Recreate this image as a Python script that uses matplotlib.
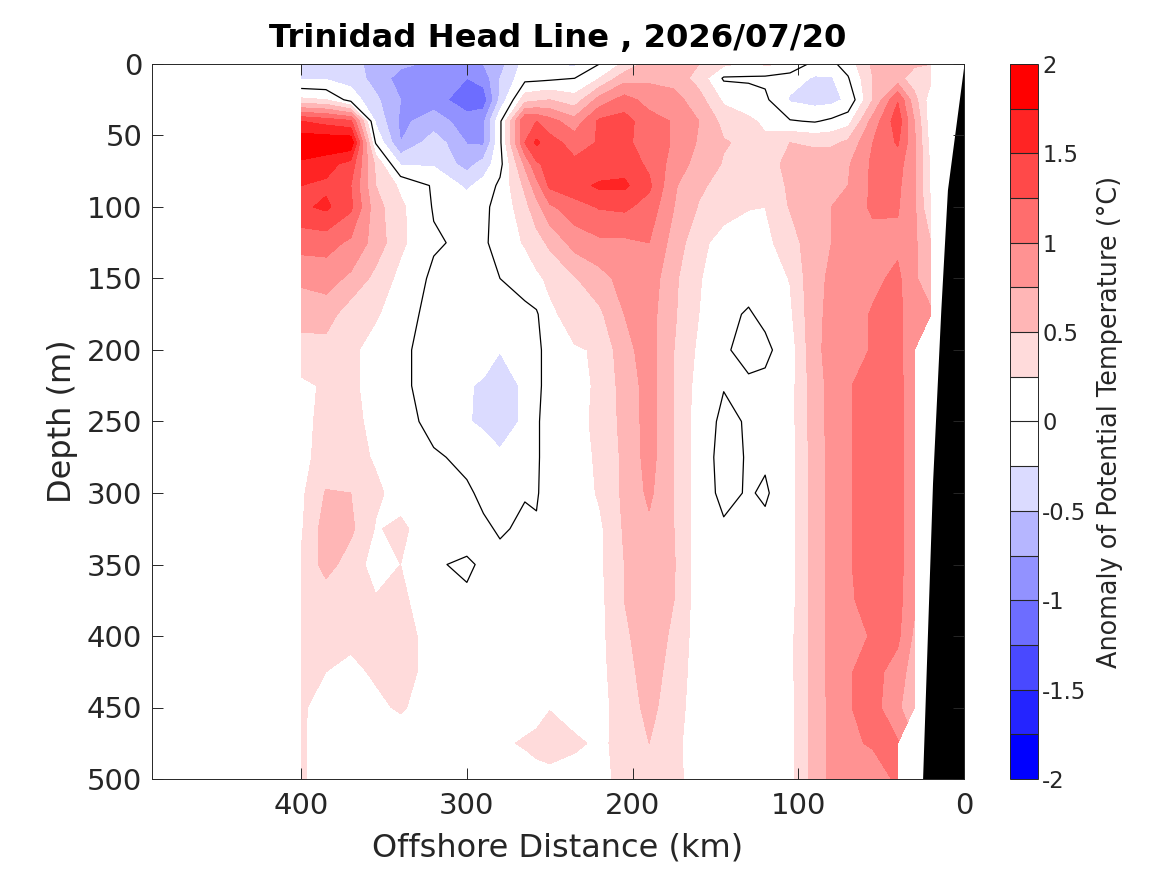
import numpy as np
import matplotlib
matplotlib.use("Agg")
import matplotlib.pyplot as plt

nan = np.nan

# Section grid
depth = [0, 10, 25, 40, 55, 70, 85, 100, 125, 150, 175, 200, 225, 250, 275, 300, 325, 350, 375, 400, 425, 450, 475, 500]
dist = [400, 385, 370, 355, 340, 320, 300, 290, 280, 265, 258, 250, 235, 220, 205, 190, 175, 160, 145, 130, 120, 105, 90, 80, 70, 55, 40, 30, 20]

# Temperature anomaly [C], one profile per station
t400 = [-.4, -.27, .3, 1.5, 1.95, 1.7, 1.5, 1.45, 1.1, .8, .6, .4, .2, .2, .2, .2, .22, .27, .3, .3, .3, .3, .3, .3]
t385 = [-.35, -.28, .25, 1.4, 1.95, 1.6, 1.45, 1.55, 1.1, .85, .62, .4, .28, .3, .32, .52, .62, .6, .35, .3, .25, .1, .05, .05]
t370 = [-.4, -.35, -.1, 1.3, 1.95, 1.4, 1.25, 1.3, .95, .7, .35, .3, .3, .3, .35, .5, .55, .38, .3, .3, .2, .1, .05, .05]
t355 = [-.6, -.6, -.45, -.3, -.02, .45, .5, .6, .65, .42, .28, .15, .15, .2, .22, .3, .23, .15, .27, .3, .28, .2, .1, .05]
t340 = [-.7, -.85, -.75, -.8, -.75, -.27, .2, .3, .3, .18, .1, .05, .05, .1, .12, .15, .3, .25, .3, .35, .35, .28, .1, .05]
t320 = [-.8, -.9, -.85, -.65, -.35, -.28, -.03, -.02, .03, -.05, -.08, -.1, -.1, -.08, .03, .08, .1, .02, .1, .15, .15, .12, .1, .1]
t300 = [-.85, -1, -1.2, -.85, -.76, -.6, -.3, -.1, -.05, -.05, -.1, -.15, -.23, -.23, -.05, .03, .1, -.03, .03, .1, .1, .1, .12, .1]
t290 = [-.75, -.9, -1.15, -.8, -.8, -.4, -.15, -.03, -.02, -.03, -.12, -.15, -.28, -.3, -.1, -.04, .03, .03, .05, .08, .08, .1, .12, .1]
t280 = [-.6, -.5, -.45, -.05, -.05, -.08, .05, .05, .05, 0, -.24, -.24, -.4, -.4, -.2, -.1, -.02, .05, .07, .08, .08, .1, .2, .12]
t265 = [-.15, -.08, .4, 1.25, 1.25, .8, .55, .42, .28, .05, -.03, -.05, -.2, -.2, -.04, -.01, .03, .08, .08, .08, .1, .12, .28, .1]
t258 = [-.15, -.07, .45, 1.25, 1.55, 1.2, .9, .65, .4, .2, -.03, -.03, -.03, -.03, -.03, -.02, .02, .08, .08, .08, .08, .1, .35, .12]
t250 = [-.26, -.05, .5, 1.1, 1.35, 1.35, 1.3, .95, .55, .3, .2, .05, .05, .1, .1, .1, .1, .1, .1, .1, .1, .23, .45, .1]
t235 = [-.3, 0, .35, .85, 1.15, 1.3, 1.4, 1.15, .85, .48, .35, .23, .15, .18, .12, .1, .1, .1, .1, .12, .12, .12, .3, .12]
t220 = [0, .25, .85, 1.3, 1.27, 1.3, 1.55, 1.27, .95, .65, .45, .27, .3, .3, .3, .28, .2, .2, .18, .18, .18, .18, .2, .2]
t205 = [.3, .65, 1.1, 1.35, 1.3, 1.4, 1.55, 1.3, .95, .85, .75, .68, .6, .58, .55, .55, .53, .5, .5, .45, .4, .35, .33, .3]
t190 = [.6, .7, .9, 1.1, 1.15, 1.2, 1.3, 1.15, 1, .9, .85, .85, .85, .85, .85, .8, .7, .65, .65, .65, .62, .58, .5, .4]
t175 = [.55, .65, .85, .98, .97, .9, .78, .75, .65, .55, .53, .5, .5, .5, .5, .5, .5, .52, .5, .45, .4, .35, .3, .28]
t160 = [.5, .4, .6, .75, .72, .65, .55, .48, .32, .27, .25, .2, .15, .12, .12, .12, .12, .12, .12, .12, .12, .13, .15, .2]
t145 = [.3, -.03, .2, .42, .52, .48, .4, .35, .15, .1, .05, .04, .01, -.05, -.08, -.06, .03, .05, .08, .08, .08, .08, .08, .08]
t130 = [.2, -.03, .1, .3, .45, .35, .3, .27, .05, .08, -.02, -.1, .05, .02, .02, .02, .06, .08, .08, .08, .08, .08, .08, .08]
t120 = [.28, -.05, .05, .2, .3, .35, .3, .25, .2, .12, .05, -.05, .05, .05, .03, -.03, .05, .08, .08, .08, .08, .08, .08, .08]
t105 = [.25, -.15, -.28, .02, .5, .6, .55, .52, .35, .26, .2, .12, .15, .15, .15, .15, .15, .15, .15, .18, .18, .18, .18, .18]
t90 = [-.1, -.28, -.35, -.02, .45, .65, .68, .7, .72, .7, .7, .7, .65, .65, .62, .62, .62, .62, .62, .62, .62, .6, .6, .6]
t80 = [-.05, -.28, -.33, .05, .45, .68, .72, .75, .75, .78, .8, .82, .82, .82, .82, .82, .82, .82, .82, .82, .82, .82, .82, .82]
t70 = [.1, -.02, -.2, .15, .55, .72, .75, .82, .9, .88, .9, .9, .98, .98, .98, .98, .98, .98, .98, .92, .98, .98, .95, .9]
t55 = [.55, .5, .5, .85, 1, 1.05, 1.05, 1.05, .9, .95, 1.02, 1.02, 1.1, 1.1, 1.1, 1.1, 1.1, 1.1, 1.05, 1.02, 1.08, 1.1, 1.03, .85]
t40 = [.65, .6, 1.23, 1.4, 1.28, 1.1, 1.05, 1.02, .95, 1.05, 1.1, 1.1, 1.1, 1.1, 1.1, 1.1, 1.1, 1.1, 1.08, 1.05, .9, .8, 1.02, 1.05]
t30 = [.55, .35, .6, .75, .8, .8, .8, .8, .8, .8, .78, .75, .8, .8, .8, .8, .8, .8, .8, .7, .6, .55, nan, nan]
t20 = [.5, .3, .1, .1, .15, .2, .2, .25, .5, .55, .8, nan, nan, nan, nan, nan, nan, nan, nan, nan, nan, nan, nan, nan]

# Sea floor
bottom_dist = [0, 10, 14, 19, 25]
bottom_depth = [0, 88, 172, 293, 500]

anom = np.array([t400, t385, t370, t355, t340, t320, t300, t290, t280, t265, t258, t250, t235, t220, t205, t190,
                 t175, t160, t145, t130, t120, t105, t90, t80, t70, t55, t40, t30, t20]).T

levels = np.arange(-2, 2.01, 0.25)

# Blue-white-red, two white classes around zero
fade = np.linspace(0, 1, 8)
blues = [(f, f, 1) for f in fade]
reds = [(1, f, f) for f in fade[::-1]]
colors = blues + reds

fig = plt.figure(figsize=(11.67, 8.75), dpi=100)
ax = fig.add_axes([152/1167, 1-779/875, 812/1167, 715/875])

cf = ax.contourf(dist, depth, anom, levels=levels, colors=colors)
ax.contour(dist, depth, anom, levels=[0], colors="k", linewidths=0.9)
ax.fill_betweenx(bottom_depth, bottom_dist, 0, color="k", lw=0)

ax.set_xlim(490, 0)
ax.set_ylim(500, 0)
ax.set_xticks([400, 300, 200, 100, 0])
ax.set_yticks(np.arange(0, 501, 50))
ax.tick_params(direction="in", top=True, right=True, length=8, width=0.7, labelsize=21, colors="#262626")
ax.tick_params(axis="x", pad=9)
ax.tick_params(axis="y", pad=7)
for s in ax.spines.values():
    s.set_linewidth(0.7)
    s.set_color("#262626")

ax.set_xlabel("Offshore Distance (km)", fontsize=23, color="#262626", labelpad=9.5)
ax.set_ylabel("Depth (m)", fontsize=23, color="#262626", labelpad=6)
ax.set_title("Trinidad Head Line , 2026/07/20", fontsize=23.2, fontweight="bold", pad=12)

cax = fig.add_axes([1010/1167, 1-779/875, 28/1167, 715/875])
cb = fig.colorbar(cf, cax=cax, drawedges=True)
cb.set_ticks(np.arange(-2, 2.01, 0.5))
cb.set_ticklabels(["-2", "-1.5", "-1", "-0.5", "0", "0.5", "1", "1.5", "2"])
cb.ax.tick_params(length=0, labelsize=16.3, colors="#262626", pad=3)
cb.dividers.set_color("#262626")
cb.dividers.set_linewidth(0.8)
cb.outline.set_linewidth(0.7)
cb.outline.set_edgecolor("#262626")
cb.set_label("Anomaly of Potential Temperature (°C)", fontsize=18.4, color="#262626", labelpad=7.5)

fig.savefig("out.png", dpi=100)
